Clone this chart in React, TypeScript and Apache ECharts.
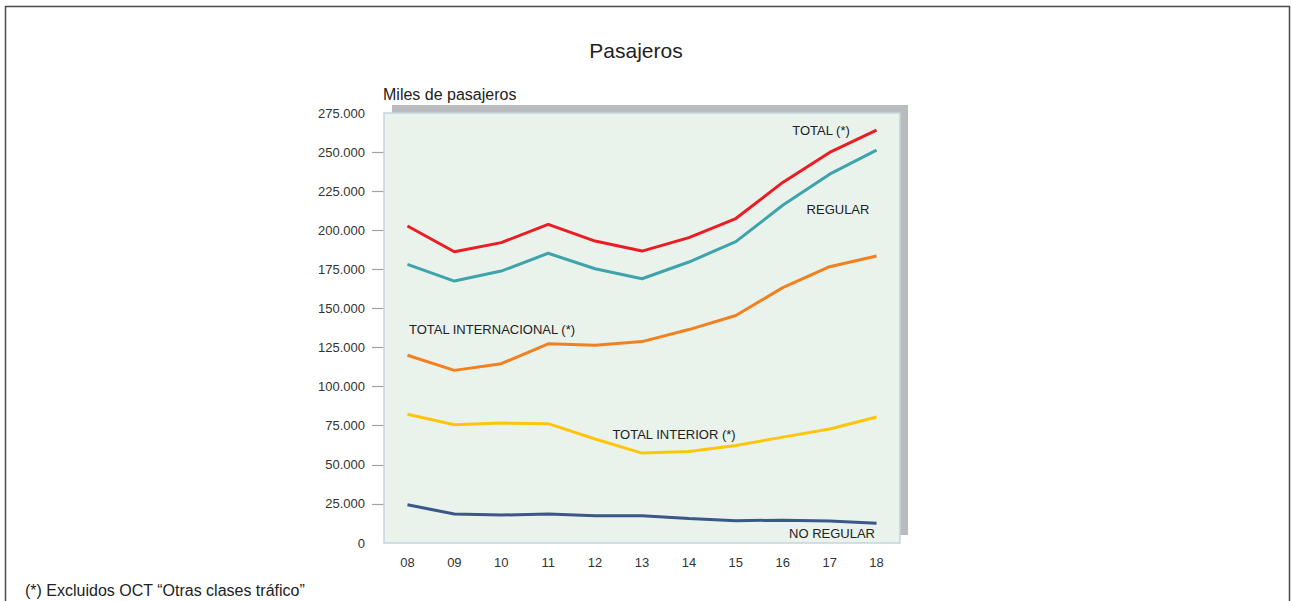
import React, { useEffect, useRef } from "react";
import * as echarts from "echarts";

const years = ["08", "09", "10", "11", "12", "13", "14", "15", "16", "17", "18"];
const total = [202700, 186300, 192100, 203800, 193100, 186700, 195300, 207500, 230600, 249800, 264100];
const regular = [178200, 167500, 173900, 185300, 175400, 169000, 179700, 192700, 216000, 235900, 251300];
const totalInternacional = [120100, 110400, 114700, 127400, 126500, 128800, 136500, 145500, 163300, 176700, 183500];
const totalInterior = [82300, 75600, 76700, 76300, 66500, 57500, 58500, 62400, 67700, 72900, 80600];
const noRegular = [24400, 18600, 17900, 18500, 17500, 17400, 15700, 14300, 14600, 14100, 12600];
const tickValues = [25000, 50000, 75000, 100000, 125000, 150000, 175000, 200000, 225000, 250000];

const FONT = "'Liberation Sans', Arial, Helvetica, sans-serif";

const fmt = (v: number) => (v === 0 ? "0" : v.toLocaleString("de-DE"));

export default function App() {
  const ref = useRef<HTMLDivElement>(null);
  useEffect(() => {
    document.body.style.margin = "0";
    const chart = echarts.init(ref.current!, null, { renderer: "svg" });
    const mkLine = (name: string, data: number[], color: string) => ({
      name,
      type: "line",
      data,
      symbol: "none",
      lineStyle: { color, width: 3 },
      itemStyle: { color },
      z: 3,
    });
    const txt = (text: string, x: number, y: number, size = 13, align = "center") => ({
      type: "text",
      x,
      y,
      z: 10,
      style: {
        text,
        fill: "#222",
        font: `${size}px ${FONT}`,
        textAlign: align,
        textVerticalAlign: "middle",
      },
    });
    chart.setOption({
      animation: false,
      textStyle: { fontFamily: FONT },
      grid: {
        left: 384,
        top: 113,
        right: 392,
        bottom: 58,
        show: true,
        backgroundColor: "#e9f3ec",
        borderColor: "#c5d4dd",
        borderWidth: 1.5,
        z: 1,
      },
      xAxis: {
        type: "category",
        data: years,
        boundaryGap: true,
        axisLine: { show: false },
        axisTick: { show: false },
        axisLabel: { color: "#333", fontSize: 13, margin: 13, fontFamily: FONT },
        splitLine: { show: false },
      },
      yAxis: {
        type: "value",
        min: 0,
        max: 275000,
        interval: 25000,
        axisLine: { show: false },
        axisTick: {
          show: true,
          length: 12,
          customValues: tickValues,
          lineStyle: { color: "#a3a3a3", width: 1.2 },
        },
        axisLabel: { color: "#333", fontSize: 13, margin: 19, fontFamily: FONT, formatter: fmt },
        splitLine: { show: true, lineStyle: { color: "#a3a3a3", width: 1.2 } },
      },
      graphic: [
        {
          type: "rect",
          z: -1,
          shape: { x: 5.5, y: 6.5, width: 1284, height: 600 },
          style: { fill: "#fff", stroke: "#4a4a4a", lineWidth: 1.5 },
        },
        {
          type: "rect",
          z: 0,
          shape: { x: 392, y: 105, width: 516, height: 430 },
          style: { fill: "#b9bbbe" },
        },
        txt("Pasajeros", 636, 50, 21),
        txt("Miles de pasajeros", 383, 94, 16, "left"),
        txt("TOTAL (*)", 821, 130),
        txt("REGULAR", 838, 209),
        txt("TOTAL INTERNACIONAL (*)", 492, 329),
        txt("TOTAL INTERIOR (*)", 674, 434),
        txt("NO REGULAR", 832, 533),
        txt("(*) Excluidos OCT \u201cOtras clases tr\u00e1fico\u201d", 25, 590, 16, "left"),
      ],
      series: [
        mkLine("NO REGULAR", noRegular, "#3b5689"),
        mkLine("TOTAL INTERIOR (*)", totalInterior, "#ffc50d"),
        mkLine("TOTAL INTERNACIONAL (*)", totalInternacional, "#f3801f"),
        mkLine("REGULAR", regular, "#3fa3ab"),
        mkLine("TOTAL (*)", total, "#ec1c24"),
      ],
    });
    return () => chart.dispose();
  }, []);
  return <div ref={ref} style={{ width: 1292, height: 601 }} />;
}
